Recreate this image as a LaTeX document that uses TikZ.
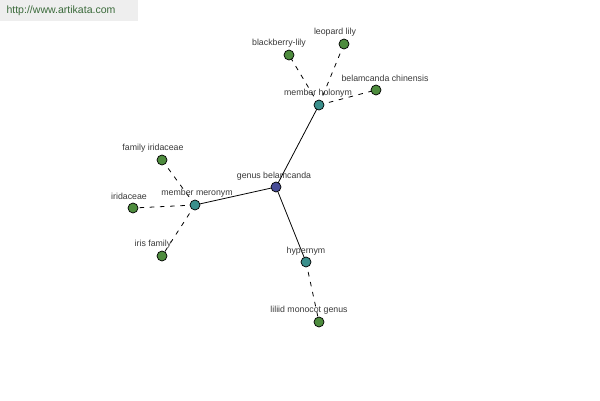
\documentclass[tikz,border=0pt]{standalone}
\usepackage{fontspec}
\setmainfont{Liberation Sans}
\definecolor{leafgreen}{HTML}{4E8C3E}
\definecolor{relteal}{HTML}{3A8F8C}
\definecolor{rootblue}{HTML}{474C97}
\definecolor{txtgray}{HTML}{3A3A3A}
\definecolor{markgreen}{HTML}{3A6A3A}
\begin{document}
\begin{tikzpicture}[x=0.02cm, y=-0.02cm, font=\fontsize{5pt}{6pt}\selectfont,
          dot/.style={circle, draw=black, line width=0.4pt, inner sep=0pt, minimum size=0.2cm},
          lbl/.style={text=txtgray, inner sep=0pt},
          rel/.style={line width=0.45pt},
          leafrel/.style={line width=0.45pt, dash pattern=on 2.6pt off 3.2pt}]
        \useasboundingbox[fill=white] (0,0) rectangle (600,400);
        % watermark
        \fill[gray!13] (0,0) rectangle (138,21);
        \node[text=markgreen, font=\fontsize{6pt}{7pt}\selectfont, inner sep=0pt] (url) at (61,11) {http://www.artikata.com};
        % edges first
        \coordinate (gb) at (276,187);
        \coordinate (hol) at (319,105);
        \coordinate (mer) at (195,205);
        \coordinate (hyp) at (306,262);
        \draw[rel] (gb) -- (hol);
        \draw[rel] (gb) -- (mer);
        \draw[rel] (gb) -- (hyp);
        \draw[leafrel] (hol) -- (289,55);
        \draw[leafrel] (hol) -- (344,44);
        \draw[leafrel] (hol) -- (376,90);
        \draw[leafrel] (mer) -- (162,160);
        \draw[leafrel] (mer) -- (133,208);
        \draw[leafrel] (mer) -- (162,256);
        \draw[leafrel] (hyp) -- (319,322);
        % nodes
        \node[dot, fill=rootblue] (n-gb) at (gb) {};
        \node[dot, fill=relteal] (n-hol) at (hol) {};
        \node[dot, fill=relteal] (n-mer) at (mer) {};
        \node[dot, fill=relteal] (n-hyp) at (hyp) {};
        \node[dot, fill=leafgreen] (n-bl) at (289,55) {};
        \node[dot, fill=leafgreen] (n-ll) at (344,44) {};
        \node[dot, fill=leafgreen] (n-bc) at (376,90) {};
        \node[dot, fill=leafgreen] (n-fi) at (162,160) {};
        \node[dot, fill=leafgreen] (n-ir) at (133,208) {};
        \node[dot, fill=leafgreen] (n-if) at (162,256) {};
        \node[dot, fill=leafgreen] (n-lm) at (319,322) {};
        % labels
        \node[lbl] (t-gb) at (274,176) {genus belamcanda};
        \node[lbl] (t-hol) at (318,93) {member holonym};
        \node[lbl] (t-mer) at (197,193) {member meronym};
        \node[lbl] (t-hyp) at (306,251) {hypernym};
        \node[lbl] (t-bl) at (279,43) {blackberry-lily};
        \node[lbl] (t-ll) at (335,32) {leopard lily};
        \node[lbl] (t-bc) at (385,78) {belamcanda chinensis};
        \node[lbl] (t-fi) at (153,148) {family iridaceae};
        \node[lbl] (t-ir) at (129,196) {iridaceae};
        \node[lbl] (t-if) at (153,244) {iris family};
        \node[lbl] (t-lm) at (309,310) {liliid monocot genus};
      \end{tikzpicture}
\end{document}
